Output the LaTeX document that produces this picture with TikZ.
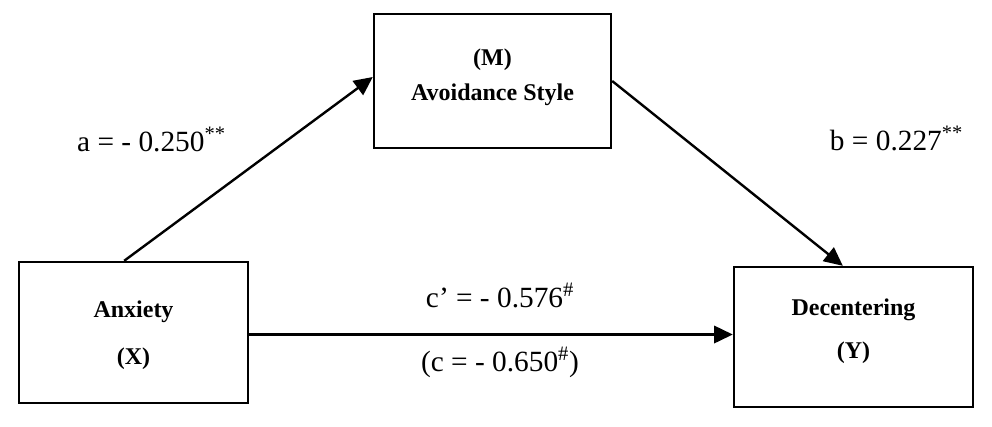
\documentclass[tikz,border=0pt]{standalone}
\usepackage{fontspec}
\setmainfont{Liberation Serif}
\usetikzlibrary{arrows.meta, positioning}

\begin{document}
\begin{tikzpicture}[x=0.75pt, y=-0.75pt,
  box/.style={draw, line width=1.8pt, inner sep=0pt},
  boxtext/.style={font=\fontsize{18}{25}\selectfont\bfseries, align=center, inner sep=0pt},
  coef/.style={font=\fontsize{22}{26}\selectfont, anchor=base, inner sep=0pt},
  arr/.style={line width=1.8pt, -{Triangle[length=14pt,width=13pt]}}]
\useasboundingbox (0,0) rectangle (992,426);
% the three boxes
\node [box, minimum width=177.75pt, minimum height=100.5pt] (m) at (492.5,81) {};
\node [box, minimum width=171.75pt, minimum height=105.75pt] (x) at (133.5,332.5) {};
\node [box, minimum width=179.25pt, minimum height=105pt] (y) at (853.5,337) {};
\node [boxtext] (mtext) at (492.5,77) {(M)\\[1pt]Avoidance Style};
\node [boxtext] (xtext) at (133.5,335) {Anxiety\\[10pt](X)};
\node [boxtext] (ytext) at (853.5,331) {Decentering\\[7pt](Y)};
% paths
\draw [arr] ([xshift=-7pt]x.north) -- ([yshift=3pt]m.west);
\draw [arr] (m.east) -- ([xshift=-8pt]y.north);
\draw [arr] ([yshift=-1.5pt]x.east) -- ([yshift=-1.5pt]x.east -| y.west);
% coefficients
\node [coef] (alab) at (151.5,151) {a = - 0.250\textsuperscript{**}};
\node [coef] (blab) at (896.5,150) {b = 0.227\textsuperscript{**}};
\node [coef] (cplab) at (500,307) {c’ = - 0.576\textsuperscript{\#}};
\node [coef] (clab) at (500,371) {(c = - 0.650\textsuperscript{\#})};
\end{tikzpicture}
\end{document}
